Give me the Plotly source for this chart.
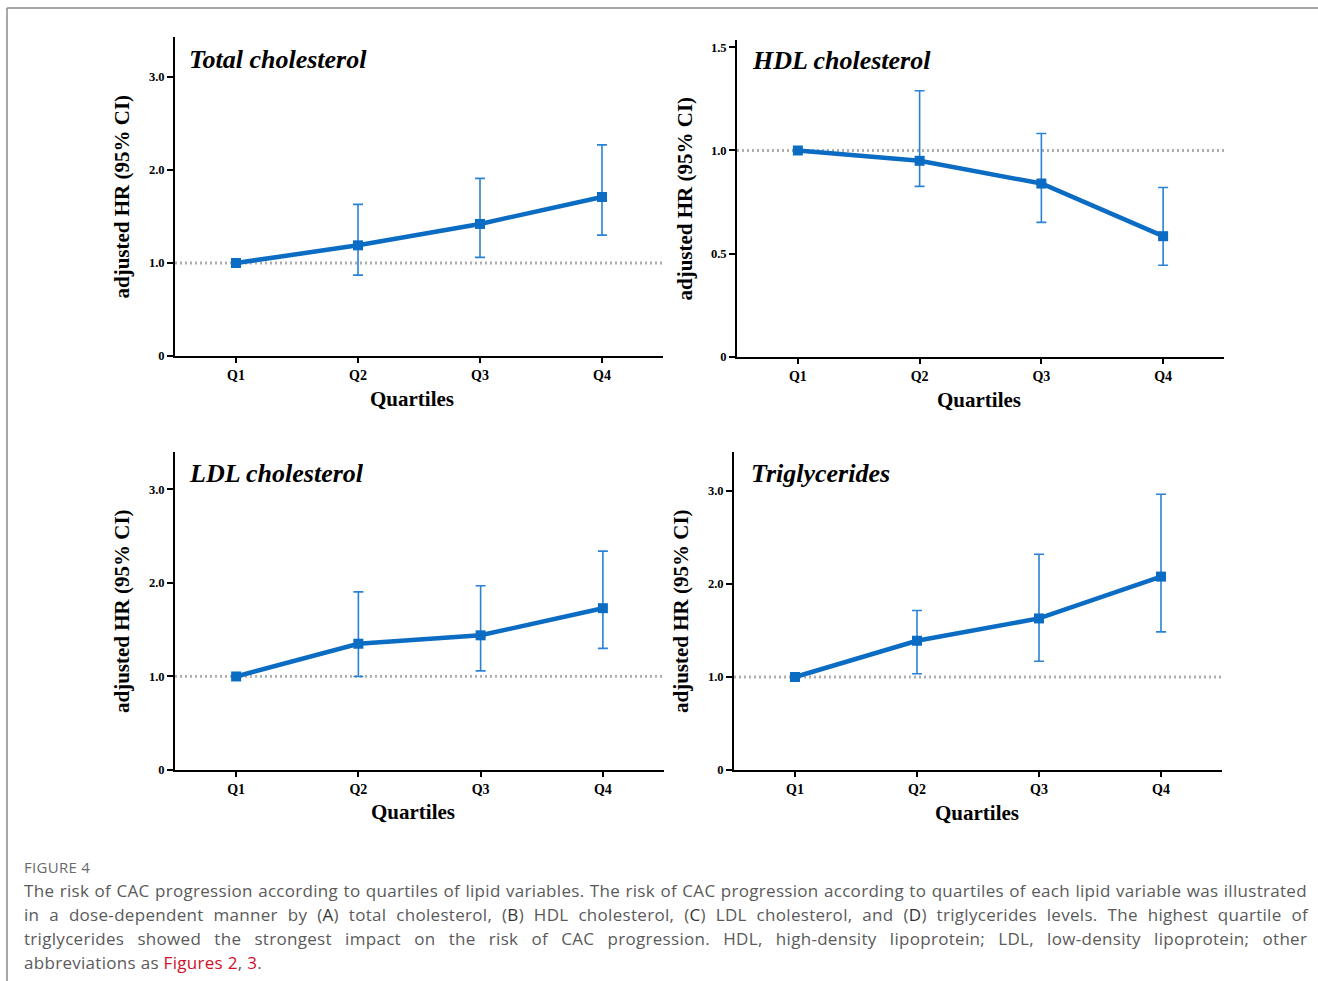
import plotly.graph_objects as go

W, H = 1318, 981
FIG_H = 988  # page height; layout positions below are expressed in 981-px reference space

categories = ["Q1", "Q2", "Q3", "Q4"]
x_pos = [1, 2, 3, 4]

tc_hr = [1.00, 1.19, 1.42, 1.71]
tc_lo = [1.00, 0.87, 1.06, 1.30]
tc_hi = [1.00, 1.63, 1.91, 2.27]

hdl_hr = [1.00, 0.95, 0.84, 0.585]
hdl_lo = [1.00, 0.826, 0.652, 0.444]
hdl_hi = [1.00, 1.289, 1.082, 0.821]

ldl_hr = [1.00, 1.35, 1.44, 1.73]
ldl_lo = [1.00, 1.00, 1.06, 1.30]
ldl_hi = [1.00, 1.905, 1.97, 2.34]

tg_hr = [1.00, 1.39, 1.63, 2.08]
tg_lo = [1.00, 1.035, 1.17, 1.486]
tg_hi = [1.00, 1.715, 2.32, 2.965]

panel_titles = ["Total cholesterol", "HDL cholesterol", "LDL cholesterol", "Triglycerides"]
ytick_vals_main = [0, 1.0, 2.0, 3.0]
ytick_text_main = ["0", "1.0", "2.0", "3.0"]
ytick_vals_hdl = [0, 0.5, 1.0, 1.5]
ytick_text_hdl = ["0", "0.5", "1.0", "1.5"]
ref_value = 1.0

y_title = "adjusted HR (95% CI)"
x_title = "Quartiles"

caption_head = "FIGURE 4"
caption_lines = [
    "The risk of CAC progression according to quartiles of lipid variables. The risk of CAC progression according to quartiles of each lipid variable was illustrated",
    "in a dose-dependent manner by (<span style='color:#333'>A</span>) total cholesterol, (<span style='color:#333'>B</span>) HDL cholesterol, (<span style='color:#333'>C</span>) LDL cholesterol, and (<span style='color:#333'>D</span>) triglycerides levels. The highest quartile of",
    "triglycerides showed the strongest impact on the risk of CAC progression. HDL, high-density lipoprotein; LDL, low-density lipoprotein; other",
    "abbreviations as <span style='color:#d0102a'>Figures 2</span>, <span style='color:#d0102a'>3</span>.",
]
caption_word_spacing = [0.7, 5.2, 8.5, 0]

LINE = "#0b6cc3"
ERR = "#2a82d6"
SERIF = "Liberation Serif"

# panel geometry (pixels): x-left, x-right, y-top, y-bottom, ymax, title/label anchors
panels = [
    dict(x0=175, x1=663, y0=37, y1=356, ymax=3.43, hr=tc_hr, lo=tc_lo, hi=tc_hi,
         tv=ytick_vals_main, tt=ytick_text_main, tx=187, ty=59, qx=412, qy=399),
    dict(x0=737, x1=1224, y0=40, y1=357, ymax=1.535, hr=hdl_hr, lo=hdl_lo, hi=hdl_hi,
         tv=ytick_vals_hdl, tt=ytick_text_hdl, tx=750, ty=60, qx=979, qy=400),
    dict(x0=175, x1=664, y0=452, y1=770, ymax=3.40, hr=ldl_hr, lo=ldl_lo, hi=ldl_hi,
         tv=ytick_vals_main, tt=ytick_text_main, tx=187, ty=473, qx=413, qy=812),
    dict(x0=734, x1=1222, y0=452, y1=770, ymax=3.42, hr=tg_hr, lo=tg_lo, hi=tg_hi,
         tv=ytick_vals_main, tt=ytick_text_main, tx=749, ty=473, qx=977, qy=813),
]

fig = go.Figure()
layout = dict(
    width=W, height=FIG_H, margin=dict(l=0, r=0, t=0, b=0),
    paper_bgcolor="white", plot_bgcolor="rgba(0,0,0,0)", showlegend=False,
)
shapes = []
annotations = []

for i, p in enumerate(panels):
    n = "" if i == 0 else str(i + 1)
    xa, ya = "x" + n, "y" + n
    fig.add_trace(go.Scatter(
        x=x_pos, y=p["hr"], xaxis=xa, yaxis=ya, mode="lines+markers",
        line=dict(color=LINE, width=4.5),
        marker=dict(symbol="square", size=10, color=LINE),
        error_y=dict(type="data", symmetric=False,
                     array=[h - m for h, m in zip(p["hi"], p["hr"])],
                     arrayminus=[m - l for m, l in zip(p["hr"], p["lo"])],
                     color=ERR, thickness=1.6, width=5),
        cliponaxis=False,
    ))
    layout["xaxis" + n] = dict(
        domain=[p["x0"] / W, p["x1"] / W], anchor=ya, range=[0.5, 4.5],
        tickvals=x_pos, ticktext=categories, showline=True, linecolor="black",
        linewidth=2, ticks="outside", ticklen=5, tickwidth=1.5, tickcolor="black",
        showgrid=False, zeroline=False,
        tickfont=dict(family=SERIF, size=14, color="black", weight="bold"),
    )
    layout["yaxis" + n] = dict(
        domain=[1 - p["y1"] / H, 1 - p["y0"] / H], anchor=xa, range=[0, p["ymax"]],
        tickvals=p["tv"], ticktext=p["tt"], showline=True, linecolor="black",
        linewidth=2, ticks="outside", ticklen=6, tickwidth=1.5, tickcolor="black",
        showgrid=False, zeroline=False,
        tickfont=dict(family=SERIF, size=12.5, color="black", weight="bold"),
    )
    shapes.append(dict(type="line", xref=xa, yref=ya, x0=0.5, x1=4.5, y0=ref_value, y1=ref_value,
                       line=dict(color="#adadad", width=2.8, dash="2px,3px"), layer="below"))
    # panel title
    annotations.append(dict(text="<b><i>" + panel_titles[i] + "</i></b>", xref="paper", yref="paper",
                            x=p["tx"] / W, y=1 - p["ty"] / H, xanchor="left", yanchor="middle",
                            showarrow=False, font=dict(family=SERIF, size=26, color="black")))
    # y title
    annotations.append(dict(text="<b>" + y_title + "</b>", xref="paper", yref="paper",
                            x=(p["x0"] - 53) / W, y=1 - ((p["y0"] + p["y1"]) / 2) / H, textangle=-90,
                            xanchor="center", yanchor="middle", showarrow=False,
                            font=dict(family=SERIF, size=21, color="black")))
    # x title
    annotations.append(dict(text="<b>" + x_title + "</b>", xref="paper", yref="paper",
                            x=p["qx"] / W, y=1 - p["qy"] / H,
                            xanchor="center", yanchor="middle", showarrow=False,
                            font=dict(family=SERIF, size=21, color="black")))

# frame lines
shapes.append(dict(type="line", xref="paper", yref="paper", x0=7 / W, x1=1, y0=1 - 8 / H, y1=1 - 8 / H,
                   line=dict(color="#8a8a8a", width=1.5)))
shapes.append(dict(type="line", xref="paper", yref="paper", x0=7 / W, x1=7 / W, y0=0, y1=1 - 8 / H,
                   line=dict(color="#8a8a8a", width=1.5)))

CAP_FONT = "Open Sans"
annotations.append(dict(text="<span style='letter-spacing:0.3px'>" + caption_head + "</span>",
                        xref="paper", yref="paper", x=22 / W, y=1 - 867 / H,
                        xanchor="left", yanchor="middle", showarrow=False,
                        font=dict(family=CAP_FONT, size=15, color="#6a6a6a")))
for k, line in enumerate(caption_lines):
    txt = "<span style='letter-spacing:0.3px;word-spacing:%.1fpx'>%s</span>" % (caption_word_spacing[k], line)
    annotations.append(dict(text=txt, xref="paper", yref="paper", x=22 / W, y=1 - (890 + 24 * k) / H,
                            xanchor="left", yanchor="middle", showarrow=False,
                            font=dict(family=CAP_FONT, size=17, color="#5a5a5a")))

layout["shapes"] = shapes
layout["annotations"] = annotations
fig.update_layout(**layout)
fig.write_html(
    "out.html",
    config={"displayModeBar": False},
    post_script=("document.documentElement.style.margin='0';document.documentElement.style.overflow='hidden';"
                 "document.body.style.margin='0';document.body.style.overflow='hidden';"),
)
